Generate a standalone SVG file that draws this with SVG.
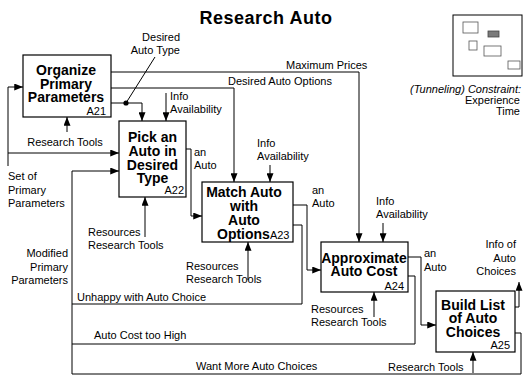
<svg xmlns="http://www.w3.org/2000/svg" width="523" height="377" viewBox="0 0 523 377">
  <defs>
    <marker id="arrow" viewBox="0 0 10 8" refX="10" refY="4" markerWidth="9" markerHeight="7" markerUnits="userSpaceOnUse" orient="auto">
      <path d="M0,0 L10,4 L0,8 Z" fill="#000"/>
    </marker>
    <style>
      text { font-family: "Liberation Sans", Arial, sans-serif; fill: #000; }
      .lbl { font-size: 11px; }
      .end { text-anchor: end; }
      .ttl { font-size: 18px; font-weight: bold; text-anchor: middle; letter-spacing: 0.5px; }
      .box { fill: #fff; stroke: #000; stroke-width: 1.2; }
      .name { font-size: 14px; font-weight: bold; text-anchor: middle; }
      .num { font-size: 11px; text-anchor: end; }
      .wire { fill: none; stroke: #000; stroke-width: 1; }
      .arr { marker-end: url(#arrow); }
      .mini { fill: #fff; stroke: #555; stroke-width: 0.8; }
    </style>
  </defs>

  <rect width="523" height="377" fill="#fff"/>

  <text class="ttl" x="266" y="24">Research Auto</text>

  <!-- constraint legend, top right -->
  <g id="legend">
    <rect x="453" y="15" width="69" height="61" fill="#fff" stroke="#000" stroke-width="1"/>
    <rect class="mini" x="463" y="22" width="15" height="11"/>
    <rect x="488" y="31" width="11" height="6" fill="#7a7a7a" stroke="#444" stroke-width="0.8"/>
    <rect class="mini" x="469" y="41" width="8" height="9"/>
    <rect class="mini" x="484" y="46" width="17" height="10"/>
    <rect class="mini" x="508" y="61" width="12" height="8"/>
    <text class="lbl" x="410" y="93" font-style="italic">(Tunneling) Constraint:</text>
    <text class="lbl end" x="520" y="104">Experience</text>
    <text class="lbl end" x="520" y="115">Time</text>
  </g>

  <!-- connectors -->
  <g id="connectors">
    <!-- Set of Primary Parameters -->
    <path class="wire arr" d="M8,166 V87 H23"/>
    <path class="wire arr" d="M8,153 H119"/>
    <!-- A21 control -->
    <path class="wire arr" d="M67,132 V117"/>
    <!-- A21 outputs -->
    <path class="wire arr" d="M111,72 H359 V242"/>
    <path class="wire arr" d="M111,88 H234 V182"/>
    <path class="wire arr" d="M111,103 H142 V121"/>
    <circle cx="126" cy="103" r="2.6" fill="#000"/>
    <path class="wire" d="M126,103 L155,57"/>
    <!-- A22 -->
    <path class="wire arr" d="M166,93 V121"/>
    <path class="wire arr" d="M145,237 V197"/>
    <path class="wire arr" d="M186,149 H191 V216 H202"/>
    <!-- A23 -->
    <path class="wire arr" d="M270,165 V182"/>
    <path class="wire arr" d="M248,280 V242"/>
    <path class="wire arr" d="M293,205 H307 V270 H321"/>
    <path class="wire" d="M293,225 H302 V304 H72"/>
    <!-- A24 -->
    <path class="wire arr" d="M383,223 V242"/>
    <path class="wire arr" d="M374,317 V292"/>
    <path class="wire arr" d="M408,257 H421 V325 H436"/>
    <path class="wire" d="M408,276 H415 V344 H72"/>
    <!-- A25 -->
    <path class="wire arr" d="M473,373 V352"/>
    <path class="wire arr" d="M515,307 H519 V282"/>
    <path class="wire" d="M515,333 H521 V374 H72"/>
    <!-- feedback back into A22 -->
    <path class="wire arr" d="M72,374 V171 H119"/>
  </g>

  <!-- connector labels -->
  <g id="labels">
    <text class="lbl" x="8" y="180">Set of</text>
    <text class="lbl" x="8" y="193.5">Primary</text>
    <text class="lbl" x="8" y="207">Parameters</text>
    <text class="lbl" x="65" y="146" text-anchor="middle">Research Tools</text>
    <text class="lbl" x="286" y="69">Maximum Prices</text>
    <text class="lbl" x="228" y="85">Desired Auto Options</text>
    <text class="lbl end" x="180" y="41">Desired</text>
    <text class="lbl end" x="180" y="54">Auto Type</text>
    <text class="lbl" x="170" y="100">Info</text>
    <text class="lbl" x="170" y="113">Availability</text>
    <text class="lbl" x="194" y="156">an</text>
    <text class="lbl" x="194" y="169">Auto</text>
    <text class="lbl" x="88" y="236">Resources</text>
    <text class="lbl" x="88" y="249">Research Tools</text>
    <text class="lbl" x="257" y="147">Info</text>
    <text class="lbl" x="257" y="160">Availability</text>
    <text class="lbl" x="312" y="194">an</text>
    <text class="lbl" x="312" y="207">Auto</text>
    <text class="lbl" x="186" y="270">Resources</text>
    <text class="lbl" x="186" y="283">Research Tools</text>
    <text class="lbl end" x="68" y="257">Modified</text>
    <text class="lbl end" x="68" y="270.5">Primary</text>
    <text class="lbl end" x="68" y="284">Parameters</text>
    <text class="lbl" x="376" y="205">Info</text>
    <text class="lbl" x="376" y="218">Availability</text>
    <text class="lbl" x="424" y="257">an</text>
    <text class="lbl" x="424" y="271">Auto</text>
    <text class="lbl" x="311" y="313">Resources</text>
    <text class="lbl" x="311" y="326">Research Tools</text>
    <text class="lbl end" x="516" y="248">Info of</text>
    <text class="lbl end" x="516" y="261.5">Auto</text>
    <text class="lbl end" x="516" y="275">Choices</text>
    <text class="lbl" x="77" y="301">Unhappy with Auto Choice</text>
    <text class="lbl" x="94" y="339">Auto Cost too High</text>
    <text class="lbl" x="196" y="370">Want More Auto Choices</text>
    <text class="lbl" x="388" y="371">Research Tools</text>
  </g>

  <!-- activity boxes -->
  <g id="A21">
    <rect class="box" x="23" y="55" width="88" height="62"/>
    <text class="name" x="66" y="75">Organize</text>
    <text class="name" x="66" y="88.5">Primary</text>
    <text class="name" x="66" y="102">Parameters</text>
    <text class="num" x="106" y="115">A21</text>
  </g>
  <g id="A22">
    <rect class="box" x="119" y="121" width="67" height="76"/>
    <text class="name" x="152.5" y="142">Pick an</text>
    <text class="name" x="152.5" y="156">Auto in</text>
    <text class="name" x="152.5" y="169.5">Desired</text>
    <text class="name" x="152.5" y="183">Type</text>
    <text class="num" x="184" y="194">A22</text>
  </g>
  <g id="A23">
    <rect class="box" x="202" y="182" width="91" height="60"/>
    <text class="name" x="244" y="197">Match Auto</text>
    <text class="name" x="244" y="211">with</text>
    <text class="name" x="244" y="225">Auto</text>
    <text x="217" y="239"><tspan font-size="14" font-weight="bold">Options</tspan><tspan font-size="11">A23</tspan></text>
  </g>
  <g id="A24">
    <rect class="box" x="321" y="242" width="87" height="50"/>
    <text class="name" x="364" y="263" font-size="13">Approximate</text>
    <text class="name" x="364" y="276" font-size="13">Auto Cost</text>
    <text class="num" x="404" y="290">A24</text>
  </g>
  <g id="A25">
    <rect class="box" x="436" y="291" width="79" height="61"/>
    <text class="name" x="473" y="310">Build List</text>
    <text class="name" x="473" y="323">of Auto</text>
    <text class="name" x="473" y="337">Choices</text>
    <text class="num" x="510" y="349">A25</text>
  </g>
</svg>
